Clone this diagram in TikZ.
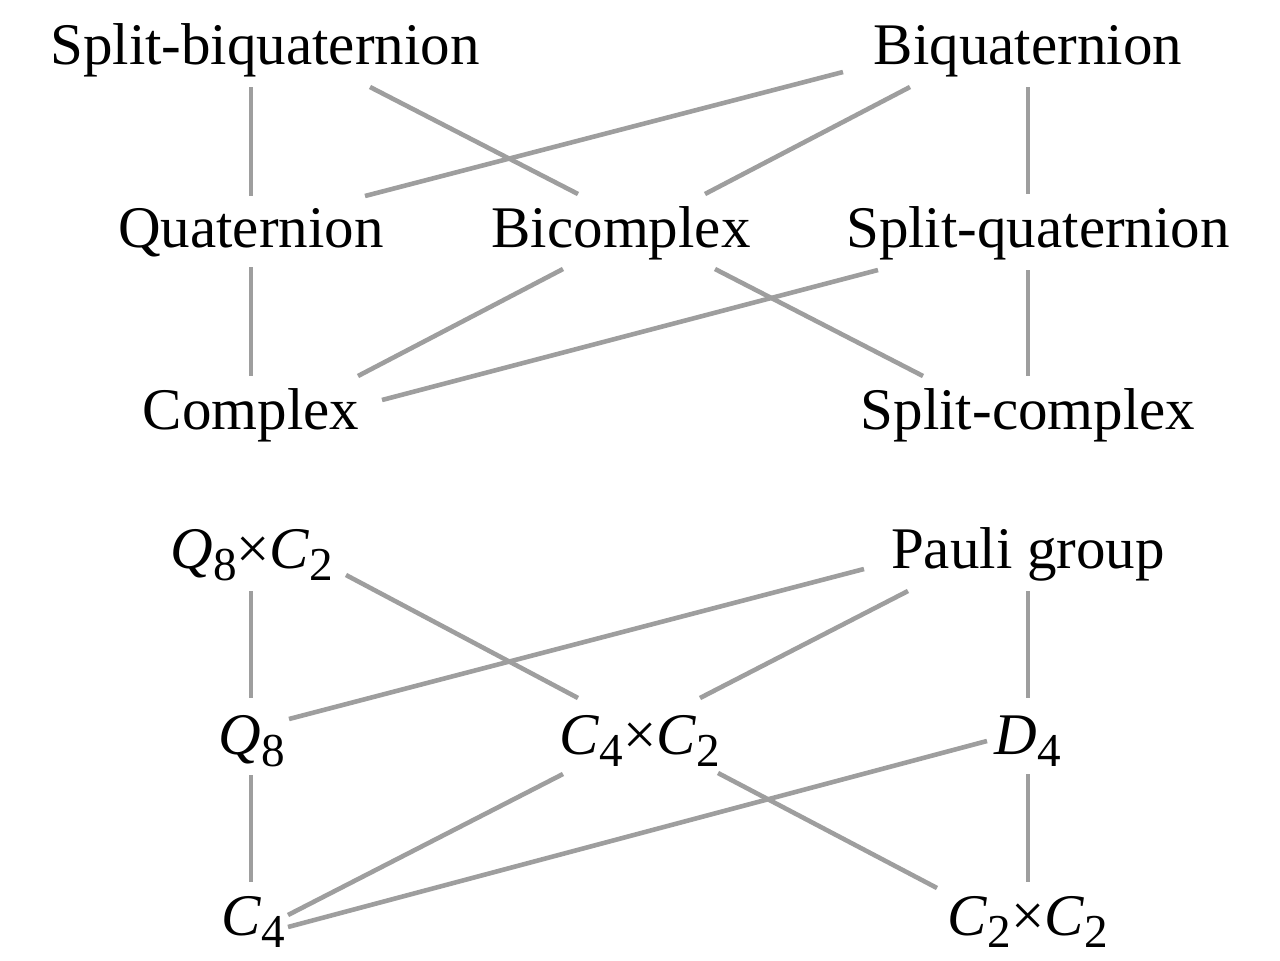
\documentclass[tikz,border=0pt]{standalone}
\usepackage{fontspec}
\setmainfont{Liberation Serif}
\definecolor{edgegray}{RGB}{158,158,158}
\newcommand\lblfont{\fontsize{29.5pt}{35pt}\selectfont}
\newcommand\mysub[1]{\raisebox{-6pt}{\fontsize{23.6pt}{28pt}\selectfont #1}}
\newcommand\mygrp[2]{\textit{#1}\mysub{#2}}
\begin{document}
\begin{tikzpicture}[x=0.5pt,y=-0.5pt,
  lbl/.style={anchor=base,inner sep=0pt,font=\lblfont},
  edge/.style={draw=edgegray,line width=2.3pt}]
\useasboundingbox (0,0) rectangle (1280,960);
% top lattice
\node[lbl] (sb) at (265,64) {Split-biquaternion};
\node[lbl] (bq) at (1028,64) {Biquaternion};
\node[lbl] (q) at (251,247) {Quaternion};
\node[lbl] (bc) at (621,247) {Bicomplex};
\node[lbl] (sq) at (1038,247) {Split-quaternion};
\node[lbl] (c) at (251,429) {Complex};
\node[lbl] (sc) at (1028,429) {Split-complex};
% bottom lattice
\node[lbl] (g1) at (252,568) {\mygrp{Q}{8}×\mygrp{C}{2}};
\node[lbl] (pg) at (1028,568) {Pauli group};
\node[lbl] (q8) at (252,754) {\mygrp{Q}{8}};
\node[lbl] (c4c2) at (640,754) {\mygrp{C}{4}×\mygrp{C}{2}};
\node[lbl] (d4) at (1028,754) {\mygrp{D}{4}};
\node[lbl] (c4) at (253,935) {\mygrp{C}{4}};
\node[lbl] (c2c2) at (1028,935) {\mygrp{C}{2}×\mygrp{C}{2}};
% top edges
\draw[edge] ([shift={(-14,23)}]sb.base) -- ([shift={(0,-51)}]q.base);
\draw[edge] ([shift={(105,23)}]sb.base) -- ([shift={(-43,-53)}]bc.base);
\draw[edge] ([shift={(-185,8)}]bq.base) -- ([shift={(114,-51)}]q.base);
\draw[edge] ([shift={(-118,23)}]bq.base) -- ([shift={(84,-53)}]bc.base);
\draw[edge] ([shift={(0,23)}]bq.base) -- ([shift={(-10,-53)}]sq.base);
\draw[edge] ([shift={(0,20)}]q.base) -- ([shift={(0,-53)}]c.base);
\draw[edge] ([shift={(-58,22)}]bc.base) -- ([shift={(107,-53)}]c.base);
\draw[edge] ([shift={(-160,23)}]sq.base) -- ([shift={(131,-29)}]c.base);
\draw[edge] ([shift={(94,22)}]bc.base) -- ([shift={(-105,-53)}]sc.base);
\draw[edge] ([shift={(-10,23)}]sq.base) -- ([shift={(0,-53)}]sc.base);
% bottom edges
\draw[edge] ([shift={(-1,23)}]g1.base) -- ([shift={(-1,-56)}]q8.base);
\draw[edge] ([shift={(94,7)}]g1.base) -- ([shift={(-62,-56)}]c4c2.base);
\draw[edge] ([shift={(-164,1)}]pg.base) -- ([shift={(37,-35)}]q8.base);
\draw[edge] ([shift={(-120,23)}]pg.base) -- ([shift={(60,-56)}]c4c2.base);
\draw[edge] ([shift={(0,23)}]pg.base) -- ([shift={(0,-56)}]d4.base);
\draw[edge] ([shift={(-1,21)}]q8.base) -- ([shift={(-2,-53)}]c4.base);
\draw[edge] ([shift={(-77,20)}]c4c2.base) -- ([shift={(35,-20)}]c4.base);
\draw[edge] ([shift={(-41,-13)}]d4.base) -- ([shift={(35,-8)}]c4.base);
\draw[edge] ([shift={(78,19)}]c4c2.base) -- ([shift={(-91,-47)}]c2c2.base);
\draw[edge] ([shift={(0,20)}]d4.base) -- ([shift={(0,-53)}]c2c2.base);
\end{tikzpicture}
\end{document}
